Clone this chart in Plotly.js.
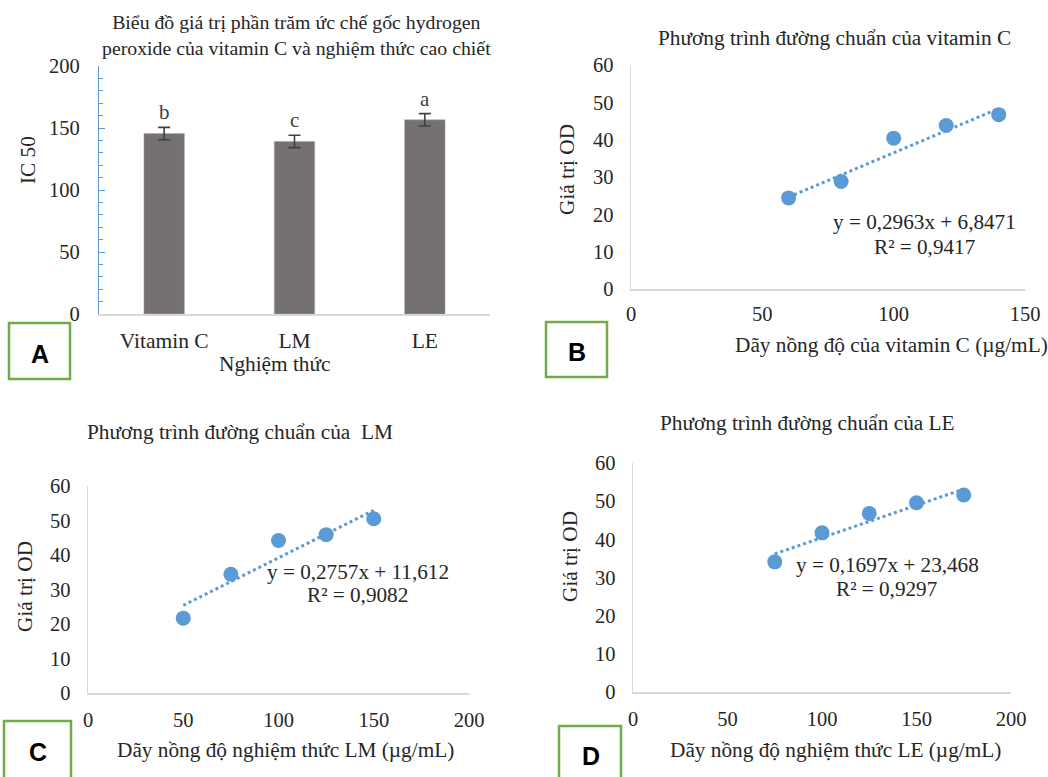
<!DOCTYPE html>
<html>
<head>
<meta charset="utf-8">
<script src="https://cdn.plot.ly/plotly-3.0.1.min.js"></script>
<style>html,body{margin:0;padding:0;background:#fff;}#chart{width:1048px;height:777px;}</style>
</head>
<body>
<div id="chart"></div>
<script>
// ---- Data ----
const categories = ['Vitamin C', 'LM', 'LE'];
const ic50 = [145.5, 139.2, 156.6];
const ic50Err = [5, 5, 5];
const sigLetters = ['b', 'c', 'a'];

const vitCConc = [60, 80, 100, 120, 140];
const vitCOD = [24.4, 28.8, 40.4, 43.8, 46.7];
const vitCFit = [0.2963, 6.8471]; // slope, intercept
const vitCEq = ['y = 0,2963x + 6,8471', 'R² = 0,9417'];

const lmConc = [50, 75, 100, 125, 150];
const lmOD = [21.7, 34.4, 44.2, 45.9, 50.5];
const lmFit = [0.2757, 11.612];
const lmEq = ['y = 0,2757x + 11,612', 'R² = 0,9082'];

const leConc = [75, 100, 125, 150, 175];
const leOD = [34.1, 41.7, 46.8, 49.6, 51.6];
const leFit = [0.1697, 23.468];
const leEq = ['y = 0,1697x + 23,468', 'R² = 0,9297'];

const titles = [
  'Biểu đồ giá trị phần trăm ức chế gốc hydrogen<br>peroxide của vitamin C và nghiệm thức cao chiết',
  'Phương trình đường chuẩn của vitamin C',
  'Phương trình đường chuẩn của  LM',
  'Phương trình đường chuẩn của LE'
];
const xTitles = ['Nghiệm thức', 'Dãy nồng độ của vitamin C (µg/mL)', 'Dãy nồng độ nghiệm thức LM (µg/mL)', 'Dãy nồng độ nghiệm thức LE (µg/mL)'];
const yTitles = ['IC 50', 'Giá trị OD', 'Giá trị OD', 'Giá trị OD'];
const panelLetters = ['A', 'B', 'C', 'D'];

// ---- Layout helpers ----
const W = 1048, H = 777;
const fx = p => p / W;
const fy = p => 1 - p / H;
const SERIF = 'Liberation Serif, Times New Roman, serif';
const TXT = '#262626';
const BLUE = '#5b9bd5';
const AXC = '#d9d9d9';

function fitLine(xs, fit) {
  const x0 = Math.min(...xs), x1 = Math.max(...xs);
  return { x: [x0, x1], y: [fit[0] * x0 + fit[1], fit[0] * x1 + fit[1]] };
}

const traces = [];
traces.push({
  type: 'bar', x: categories, y: ic50, xaxis: 'x', yaxis: 'y',
  marker: { color: '#767171', line: { color: '#a6a6a6', width: 0.5 } },
  error_y: { type: 'data', array: ic50Err, visible: true, color: '#404040', thickness: 1.6, width: 6 },
  width: 0.31, showlegend: false, hoverinfo: 'skip'
});

const sets = [
  [vitCConc, vitCOD, vitCFit, 'x2', 'y2'],
  [lmConc, lmOD, lmFit, 'x3', 'y3'],
  [leConc, leOD, leFit, 'x4', 'y4']
];
sets.forEach(s => {
  const fl = fitLine(s[0], s[2]);
  traces.push({ type: 'scatter', mode: 'lines', x: fl.x, y: fl.y, xaxis: s[3], yaxis: s[4],
    line: { color: BLUE, dash: 'dot', width: 3 }, showlegend: false, hoverinfo: 'skip' });
  traces.push({ type: 'scatter', mode: 'markers', x: s[0], y: s[1], xaxis: s[3], yaxis: s[4],
    marker: { color: BLUE, size: 15 }, showlegend: false });
});

const tickF = { family: SERIF, size: 20.5, color: TXT };
function scatterAxes(xdom, ydom, xmax) {
  return [{
    domain: xdom, range: [0, xmax], dtick: 50, showgrid: false, zeroline: false,
    showline: true, linecolor: AXC, linewidth: 1.5, ticks: '', tickfont: tickF, ticklabelstandoff: 8, fixedrange: true
  }, {
    domain: ydom, range: [0, 60], dtick: 10, showgrid: false, zeroline: false,
    showline: true, linecolor: AXC, linewidth: 1.5, ticks: '', tickfont: tickF, ticklabelstandoff: 12, fixedrange: true
  }];
}

const [x2, y2] = scatterAxes([fx(631), fx(1025)], [fy(289), fy(65)], 150);
const [x3, y3] = scatterAxes([fx(88), fx(469)], [fy(693), fy(486)], 200);
const [x4, y4] = scatterAxes([fx(633), fx(1011)], [fy(692), fy(463)], 200);
x2.ticklabelstandoff = 6;
y2.anchor = 'x2'; x2.anchor = 'y2';
y3.anchor = 'x3'; x3.anchor = 'y3';
y4.anchor = 'x4'; x4.anchor = 'y4';

const ann = [];
// Titles
const titlePos = [[296, 35], [834, 38], [240, 432], [807, 423]];
const titleSize = [19.8, 21.3, 21.3, 21.3];
titles.forEach((t, i) => ann.push({ xref: 'paper', yref: 'paper', x: fx(titlePos[i][0]), y: fy(titlePos[i][1]),
  text: t, showarrow: false, xanchor: 'center', yanchor: 'middle', font: { family: SERIF, size: titleSize[i], color: TXT } }));
// X titles
const xtPos = [[275, 364], [891, 345], [285, 750], [835, 750]];
xTitles.forEach((t, i) => ann.push({ xref: 'paper', yref: 'paper', x: fx(xtPos[i][0]), y: fy(xtPos[i][1]),
  text: t, showarrow: false, xanchor: 'center', yanchor: 'middle', font: { family: SERIF, size: 21.3, color: TXT } }));
// Y titles
const ytPos = [[28, 160], [567, 170], [25, 587], [570, 557]];
yTitles.forEach((t, i) => ann.push({ xref: 'paper', yref: 'paper', x: fx(ytPos[i][0]), y: fy(ytPos[i][1]),
  text: t, textangle: -90, showarrow: false, xanchor: 'center', yanchor: 'middle', font: { family: SERIF, size: 21.3, color: TXT } }));
// Equations
const eqs = [vitCEq, lmEq, leEq];
const eqPos = [[[924, 222], [924, 247]], [[358, 572], [357, 595]], [[887, 565], [886, 589]]];
eqs.forEach((e, i) => e.forEach((line, j) => ann.push({ xref: 'paper', yref: 'paper', x: fx(eqPos[i][j][0]), y: fy(eqPos[i][j][1]),
  text: line, showarrow: false, xanchor: 'center', yanchor: 'middle', font: { family: SERIF, size: 21.2, color: TXT } })));
// Significance letters
categories.forEach((c, i) => ann.push({ xref: 'x', yref: 'y', x: c, y: ic50[i] + ic50Err[i], text: sigLetters[i],
  showarrow: false, yanchor: 'bottom', yshift: 1, font: { family: SERIF, size: 21, color: '#404040' } }));
// Panel letter boxes
const boxes = [[9, 323, 70, 379, 40, 354], [546, 322, 607, 377, 577, 352], [4, 721, 71, 800, 38, 752], [559, 726, 621, 800, 591, 756]];
const shapes = boxes.map(b => ({ type: 'rect', xref: 'paper', yref: 'paper', x0: fx(b[0]), x1: fx(b[2]), y0: fy(b[1]), y1: fy(b[3]),
  line: { color: '#70ad47', width: 2.5 }, fillcolor: '#ffffff', layer: 'above' }));
boxes.forEach((b, i) => ann.push({ xref: 'paper', yref: 'paper', x: fx(b[4]), y: fy(b[5]), text: '<b>' + panelLetters[i] + '</b>',
  showarrow: false, xanchor: 'center', yanchor: 'middle', font: { family: 'Liberation Sans, Arial, sans-serif', size: 25, color: '#000' } }));

const layout = {
  width: W, height: H, margin: { l: 0, r: 0, t: 0, b: 0 },
  paper_bgcolor: '#fff', plot_bgcolor: 'rgba(0,0,0,0)', showlegend: false,
  xaxis: { domain: [fx(99), fx(490)], anchor: 'y', showline: true, linecolor: AXC, linewidth: 1.5, ticks: '',
    tickfont: { family: SERIF, size: 21.5, color: TXT }, ticklabelstandoff: 7, fixedrange: true },
  yaxis: { domain: [fy(314), fy(66)], anchor: 'x', range: [0, 200], dtick: 50, showgrid: false, zeroline: false,
    showline: true, linecolor: BLUE, linewidth: 1.2, ticks: 'inside', ticklen: 6, tickcolor: BLUE,
    minor: { dtick: 10, ticks: 'inside', ticklen: 4, tickcolor: BLUE, showgrid: false },
    tickfont: tickF, ticklabelstandoff: 14, fixedrange: true },
  xaxis2: x2, yaxis2: y2, xaxis3: x3, yaxis3: y3, xaxis4: x4, yaxis4: y4,
  annotations: ann, shapes: shapes
};

Plotly.newPlot('chart', traces, layout, { displayModeBar: false, staticPlot: true });
</script>
</body>
</html>
